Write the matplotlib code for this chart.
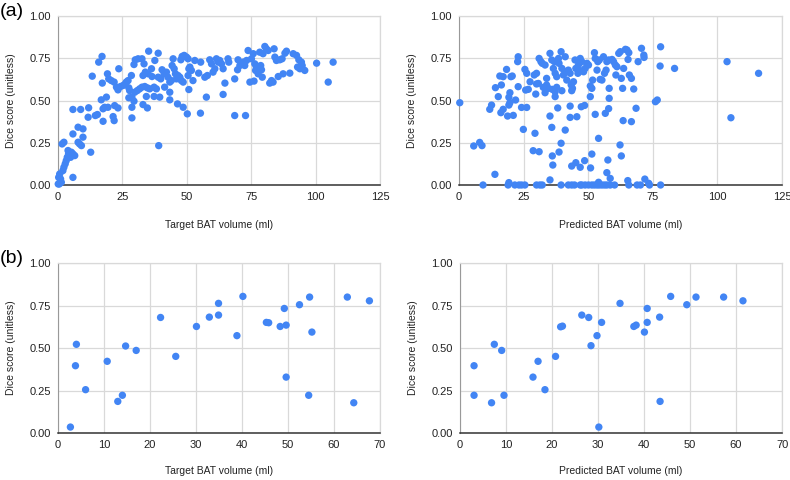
import matplotlib
matplotlib.use('Agg')
import matplotlib.pyplot as plt
from matplotlib.ticker import FormatStrFormatter

plt.rcParams['font.family'] = ['Liberation Sans', 'DejaVu Sans']

BLUE = '#4285F4'
GRID = '#d9d9d9'

# (a) left: target volume vs dice
tl_x = [0.65, 0.26, 1.0, 1.3, 0.5, 0.1, 1.9, 2.3, 2.8, 3.2, 3.6, 4.1, 4.5, 3.9, 5.2, 5.8, 6.5, 4.9, 5.8,
        1.6, 2.3, 5.8, 7.8, 9.7, 8.4, 9.7, 7.8, 9.1, 12.7, 5.8, 8.8, 11.9, 11.7, 14.5, 15.3, 17.5,
        15.8, 17.1, 13.3, 17.2, 19.2, 19.7, 20.7, 21.8, 22.7, 23.3, 23.6, 24.3, 25.3, 25.9, 26.5, 27.2,
        27.5, 27.8, 28.5, 28.7, 29.5, 30.0, 31.1, 32.6, 33.4, 35.2, 37.6, 38.9, 29.8, 30.8, 31.7, 32.6,
        33.7, 34.7, 35.6, 33.0, 33.9, 35.0, 36.3, 36.5, 37.3, 38.2, 38.9, 39.9, 40.4, 41.2, 42.1, 42.7,
        43.4, 44.0, 44.3, 44.7, 45.1, 45.6, 46.0, 46.6, 47.3, 47.7, 48.2, 49.0, 49.9, 50.5, 50.8, 51.2,
        51.8, 52.4, 47.9, 48.6, 50.5, 50.8, 41.4, 43.4, 37.3, 39.5, 34.3, 27.5, 29.5, 28.7, 33.0, 34.7,
        22.0, 23.3, 16.8, 18.8, 18.1, 17.5, 19.4, 21.4, 21.8, 28.7, 39.1, 43.4, 46.4, 48.6, 50.2, 55.3,
        53.1, 55.4, 54.6, 57.0, 58.0, 58.9, 59.6, 60.2, 60.9, 61.5, 62.2, 62.8, 63.5, 64.1, 64.8, 66.0,
        66.3, 68.6, 69.7, 69.9, 70.6, 71.9, 72.5, 73.2, 73.8, 74.5, 75.1, 75.8, 76.1, 76.4, 76.7, 77.0,
        77.7, 78.3, 78.7, 79.0, 79.3, 79.6, 80.3, 80.9, 81.6, 82.2, 82.9, 83.5, 83.9, 84.2, 84.8, 85.5,
        86.1, 87.0, 87.4, 88.1, 88.7, 90.0, 91.3, 92.6, 93.0, 93.5, 93.9, 94.5, 94.8, 95.8, 100.4, 106.8,
        104.9, 57.6, 64.1, 68.6, 72.8]
tl_y = [0.065, 0.045, 0.036, 0.016, 0.006, 0.006, 0.085, 0.105, 0.125, 0.144, 0.164, 0.184, 0.194, 0.204,
        0.194, 0.184, 0.174, 0.164, 0.045,
        0.243, 0.253, 0.302, 0.342, 0.332, 0.243, 0.283, 0.253, 0.233, 0.194, 0.447, 0.447, 0.457, 0.401,
        0.411, 0.417, 0.377,
        0.727, 0.761, 0.644, 0.603, 0.658, 0.628, 0.618, 0.609, 0.579, 0.563, 0.688, 0.583, 0.589, 0.595,
        0.609, 0.618, 0.575, 0.559, 0.648, 0.520, 0.713, 0.741, 0.747, 0.747, 0.717, 0.792, 0.737, 0.780,
        0.549, 0.559, 0.569, 0.579, 0.583, 0.575, 0.569, 0.648, 0.668, 0.658, 0.688, 0.642, 0.579, 0.569,
        0.638, 0.628, 0.682, 0.658, 0.668, 0.638, 0.609, 0.618, 0.707, 0.747, 0.688, 0.658, 0.628, 0.648,
        0.638, 0.741, 0.761, 0.767, 0.757, 0.747, 0.688, 0.698, 0.678, 0.618, 0.618, 0.609, 0.648, 0.565,
        0.579, 0.549, 0.524, 0.520, 0.524, 0.516, 0.496, 0.460, 0.476, 0.456, 0.470, 0.456, 0.504, 0.520,
        0.460, 0.451, 0.460, 0.405, 0.381, 0.397, 0.233, 0.504, 0.480, 0.460, 0.421, 0.425,
        0.737, 0.727, 0.662, 0.638, 0.648, 0.741, 0.717, 0.668, 0.688, 0.747, 0.727, 0.737, 0.717, 0.688,
        0.603, 0.747, 0.727, 0.628, 0.682, 0.741, 0.707, 0.727, 0.707, 0.737, 0.796, 0.609, 0.747, 0.777,
        0.615, 0.717, 0.678, 0.698, 0.658, 0.786, 0.707, 0.682, 0.638, 0.777, 0.820, 0.806, 0.796, 0.603,
        0.618, 0.609, 0.806, 0.757, 0.737, 0.642, 0.741, 0.747, 0.658, 0.780, 0.792, 0.662, 0.777, 0.767,
        0.698, 0.741, 0.688, 0.727, 0.707, 0.678, 0.721, 0.727, 0.609, 0.520, 0.536, 0.411, 0.411]

# (a) right: predicted volume vs dice
tr_x = [9.3, 19.0, 21.6, 23.2, 24.2, 25.5, 30.0, 31.3, 32.2, 39.5, 42.3, 43.6, 44.7, 46.9, 47.5, 48.8,
        50.1, 51.4, 52.4, 53.4, 54.3, 55.3, 56.3, 57.2, 58.5, 60.2, 65.7, 68.9, 70.2, 73.7, 78.0,
        19.3, 35.2, 54.0, 65.3, 71.9, 73.4,
        13.9, 5.7, 8.0, 8.9, 0.3, 11.9, 12.6,
        16.2, 17.1, 18.8, 21.0, 19.3, 19.7, 21.9, 24.2, 26.2, 24.9, 29.4, 28.7, 31.0, 35.2, 35.9, 38.2,
        41.1, 39.5, 38.7, 36.1, 36.3, 43.0, 43.0, 45.6, 47.3, 48.6, 50.8, 52.7, 54.0, 51.4, 43.6, 45.2,
        46.9, 48.6, 50.9, 56.6, 57.9, 58.1, 57.6, 57.2, 58.5, 62.3, 62.8, 63.5, 66.7, 68.5, 76.0, 76.7,
        105.2, 103.7, 115.9, 78.0, 77.8, 83.4,
        15.2, 14.1, 16.4, 15.8, 17.1, 18.4, 20.1, 20.6, 19.7, 19.3, 22.7, 22.9, 22.9, 25.5, 26.2, 25.8,
        26.8, 27.5, 29.1, 30.0, 29.7, 31.0, 31.7, 32.2, 33.3, 30.7, 30.0, 33.9, 33.9, 34.6, 35.2, 35.9,
        36.5, 36.9, 37.2, 37.8, 38.5, 38.7, 39.5, 39.8, 40.4, 41.1, 41.3, 41.7, 42.3, 43.0, 43.4, 43.9,
        44.3, 44.9, 45.2, 46.0, 46.2, 46.9, 47.3, 47.5, 48.2, 48.8, 49.5, 50.1, 50.8, 51.4, 51.7, 52.4,
        52.7, 53.4, 53.7, 54.3, 54.6, 55.3, 55.9, 56.3, 56.9, 57.2, 57.9, 58.1, 59.2, 59.8, 60.5, 60.7,
        61.1, 61.8, 62.4, 62.8, 63.3, 63.7, 64.4, 65.0, 65.4, 65.7, 65.9, 66.7, 67.6, 69.3, 70.6, 71.5,
        71.6, 37.8, 37.2, 36.1, 39.8, 43.6, 32.6, 37.2, 33.3]
tr_y = [0.0] * 31 + [0.014, 0.030, 0.016, 0.026, 0.035, 0.010,
        0.063, 0.231, 0.252, 0.233, 0.487, 0.448, 0.473,
        0.428, 0.448, 0.408, 0.412, 0.473, 0.487, 0.503, 0.459, 0.459, 0.329, 0.306, 0.203, 0.197, 0.408,
        0.341, 0.456, 0.325, 0.247, 0.195, 0.172, 0.118, 0.467, 0.400, 0.404, 0.463, 0.471, 0.523, 0.418,
        0.276, 0.183, 0.112, 0.132, 0.105, 0.144, 0.101, 0.424, 0.452, 0.513, 0.148, 0.073, 0.039, 0.237,
        0.172, 0.381, 0.375, 0.454, 0.493, 0.503,
        0.398, 0.730, 0.661, 0.818, 0.704, 0.690,
        0.523, 0.576, 0.592, 0.645, 0.641, 0.684, 0.641, 0.645, 0.546, 0.519, 0.730, 0.759, 0.582, 0.684,
        0.661, 0.562, 0.566, 0.611, 0.651, 0.661, 0.538, 0.749, 0.730, 0.720, 0.710, 0.601, 0.598, 0.631,
        0.592, 0.572, 0.779, 0.740, 0.690, 0.730, 0.661, 0.641, 0.749, 0.720, 0.789, 0.690, 0.651, 0.759,
        0.670, 0.621, 0.680, 0.661, 0.592, 0.572, 0.611, 0.740, 0.690, 0.661, 0.710, 0.749, 0.676, 0.730,
        0.670, 0.690, 0.720, 0.710, 0.586, 0.572, 0.621, 0.783, 0.749, 0.680, 0.730, 0.740, 0.625, 0.621,
        0.759, 0.661, 0.680, 0.730, 0.740, 0.572, 0.743, 0.730, 0.710, 0.651, 0.700, 0.779, 0.789, 0.631,
        0.572, 0.690, 0.803, 0.799, 0.743, 0.783, 0.651, 0.631, 0.568, 0.730, 0.809, 0.769, 0.755, 0.578,
        0.552, 0.566, 0.558, 0.558, 0.578, 0.523, 0.546]

# (b) left: target volume vs dice
bl_x = [2.7, 4.0, 3.8, 6.0, 10.7, 14.7, 17.0, 13.0, 14.0, 22.3, 25.6, 30.1, 32.9, 34.9, 34.9, 40.2,
        38.9, 45.3, 45.8, 48.3, 49.6, 49.2, 52.5, 54.7, 55.2, 49.6, 54.5, 62.9, 64.3, 67.7]
bl_y = [0.035, 0.522, 0.396, 0.255, 0.422, 0.512, 0.486, 0.186, 0.222, 0.680, 0.451, 0.627, 0.682,
        0.694, 0.763, 0.804, 0.573, 0.651, 0.649, 0.627, 0.635, 0.733, 0.755, 0.800, 0.594, 0.329,
        0.222, 0.800, 0.178, 0.778]

# (b) right: predicted volume vs dice
br_x = [3.1, 3.1, 6.9, 7.5, 9.1, 9.6, 15.9, 17.0, 18.5, 20.8, 21.9, 22.3, 26.5, 28.0, 28.5, 29.8,
        30.2, 30.8, 34.8, 37.8, 38.3, 40.1, 40.7, 40.7, 43.4, 43.5, 45.8, 49.3, 51.3, 57.3, 61.5]
br_y = [0.396, 0.222, 0.178, 0.522, 0.486, 0.222, 0.329, 0.422, 0.255, 0.451, 0.625, 0.629, 0.694,
        0.680, 0.514, 0.573, 0.035, 0.651, 0.763, 0.627, 0.635, 0.594, 0.733, 0.651, 0.682, 0.186,
        0.804, 0.755, 0.800, 0.800, 0.778]


def scatter_panel(ax, x, y, xmax, xstep, xlabel, xlabel_y):
    ax.scatter(x, y, s=28, color=BLUE, edgecolors='none', zorder=3, clip_on=False)
    ax.set_xlim(0, xmax)
    ax.set_ylim(0, 1)
    ax.set_xticks(range(0, xmax + 1, xstep))
    ax.set_yticks([0, 0.25, 0.5, 0.75, 1.0])
    ax.yaxis.set_major_formatter(FormatStrFormatter('%.2f'))
    ax.grid(True, color=GRID, linewidth=0.9, zorder=0)
    ax.set_axisbelow(True)
    ax.tick_params(length=0, labelsize=8, pad=5, colors='#222222')
    for side in ['top', 'right']:
        ax.spines[side].set_color(GRID)
        ax.spines[side].set_linewidth(0.9)
    ax.spines['left'].set_color('#999999')
    ax.spines['bottom'].set_color('#333333')
    ax.spines['bottom'].set_linewidth(1.1)
    ax.set_xlabel(xlabel, fontsize=7.5, color='#222222')
    ax.set_ylabel('Dice score (unitless)', fontsize=7.5, color='#222222')
    ax.xaxis.set_label_coords(0.5, xlabel_y)
    ax.yaxis.set_label_coords(-0.13, 0.5)


fig = plt.figure(figsize=(7.9, 4.8), dpi=100)
ax_tl = fig.add_axes([0.0734, 0.6146, 0.4076, 0.352])
ax_tr = fig.add_axes([0.581, 0.6146, 0.409, 0.352])
ax_bl = fig.add_axes([0.0734, 0.0979, 0.4076, 0.354])
ax_br = fig.add_axes([0.582, 0.0979, 0.408, 0.354])

scatter_panel(ax_tl, tl_x, tl_y, 125, 25, 'Target BAT volume (ml)', -0.21)
scatter_panel(ax_tr, tr_x, tr_y, 125, 25, 'Predicted BAT volume (ml)', -0.21)
scatter_panel(ax_bl, bl_x, bl_y, 70, 10, 'Target BAT volume (ml)', -0.195)
scatter_panel(ax_br, br_x, br_y, 70, 10, 'Predicted BAT volume (ml)', -0.195)

fig.text(0.0, 0.975, '(a)', fontsize=14, va='center', ha='left')
fig.text(0.0, 0.462, '(b)', fontsize=14, va='center', ha='left')

fig.savefig('out.png', dpi=100)
